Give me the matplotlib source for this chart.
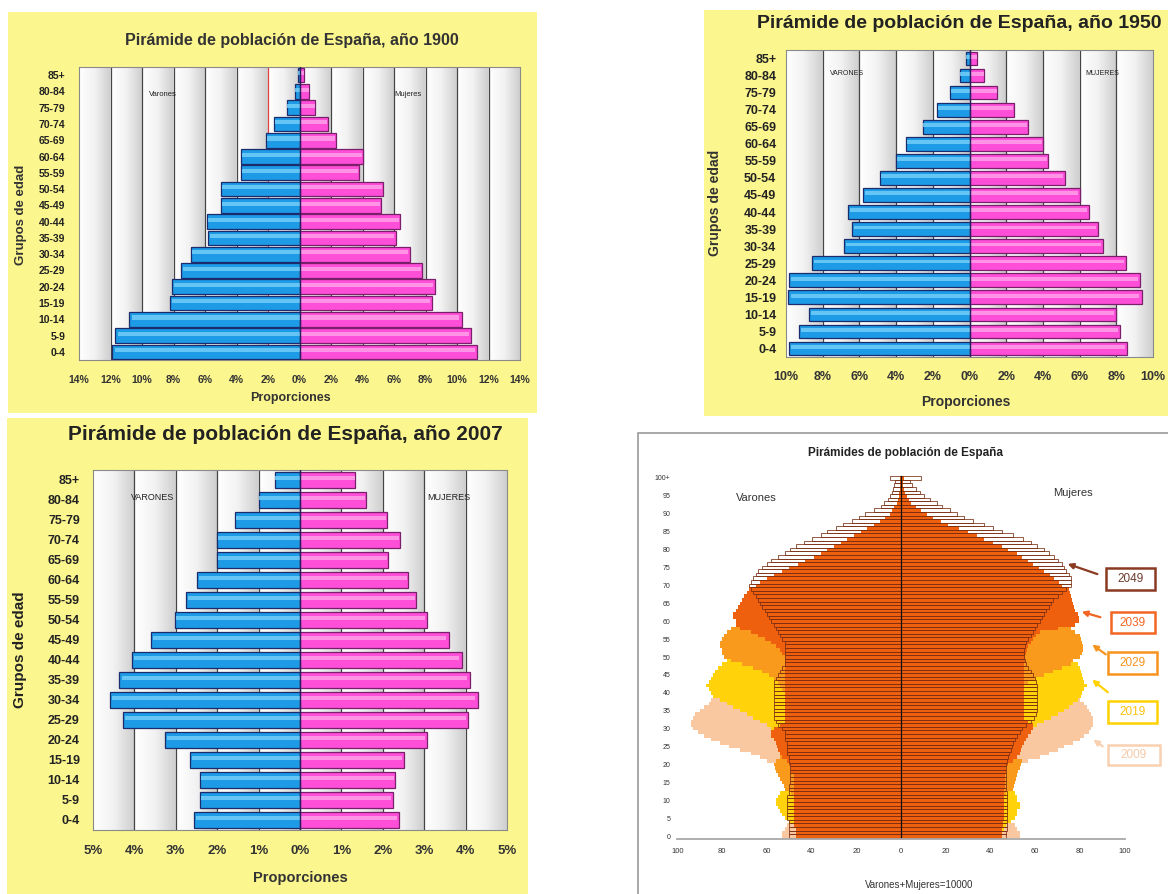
import numpy as np
import matplotlib
matplotlib.use("Agg")
import matplotlib.pyplot as plt
from matplotlib.patches import Rectangle, FancyArrowPatch
from matplotlib.colors import LinearSegmentedColormap

plt.rcParams['font.family'] = ['Liberation Sans', 'DejaVu Sans']

W, H = 1168, 894

# ---------------- data: quinquennial pyramids (% of total population) ----------------
groups = ["0-4", "5-9", "10-14", "15-19", "20-24", "25-29", "30-34", "35-39", "40-44",
          "45-49", "50-54", "55-59", "60-64", "65-69", "70-74", "75-79", "80-84", "85+"]

men_1900 = [11.9, 11.7, 10.8, 8.2, 8.1, 7.5, 6.9, 5.8, 5.9, 5.0, 5.0, 3.7, 3.7, 2.1, 1.6, 0.8, 0.3, 0.1]
women_1900 = [11.3, 10.9, 10.3, 8.4, 8.6, 7.8, 7.0, 6.1, 6.4, 5.2, 5.3, 3.8, 4.0, 2.3, 1.8, 1.0, 0.6, 0.3]

men_1950 = [9.85, 9.3, 8.75, 9.9, 9.85, 8.6, 6.85, 6.4, 6.6, 5.8, 4.9, 4.0, 3.45, 2.55, 1.75, 1.05, 0.5, 0.2]
women_1950 = [8.6, 8.2, 8.0, 9.4, 9.3, 8.55, 7.25, 7.0, 6.5, 6.0, 5.2, 4.3, 4.0, 3.2, 2.4, 1.5, 0.8, 0.4]

men_2007 = [2.56, 2.42, 2.42, 2.66, 3.25, 4.28, 4.6, 4.36, 4.06, 3.6, 3.03, 2.75, 2.48, 2.0, 2.0, 1.56, 1.0, 0.61]
women_2007 = [2.38, 2.24, 2.3, 2.5, 3.07, 4.06, 4.29, 4.1, 3.91, 3.59, 3.07, 2.81, 2.62, 2.13, 2.42, 2.11, 1.6, 1.34]

# ---------------- data: projected pyramids by single age (per 10000 inhabitants) ----------------
ages = list(range(0, 101))
age_labels = [str(a) for a in range(0, 100, 5)] + ["100+"]
proj_years = ["2009", "2019", "2029", "2039", "2049"]

men_2009 = [53, 53, 52, 51, 50, 49, 48, 47, 46, 46,
            45, 45, 45, 45, 46, 47, 48, 50, 52, 55,
            57, 60, 63, 67, 72, 77, 81, 85, 88, 91,
            93, 94, 94, 93, 92, 90, 88, 86, 85, 84,
            83, 82, 81, 80, 79, 78, 76, 74, 72, 70,
            68, 66, 64, 62, 61, 59, 58, 57, 56, 55,
            54, 52, 50, 48, 45, 43, 41, 40, 39, 38,
            37, 36, 35, 34, 33, 31, 29, 27, 25, 23,
            21, 19, 17, 15, 13, 11, 9, 8, 6, 5,
            4, 3, 2.5, 2, 1.5, 1, 0.8, 0.6, 0.4, 0.3,
            0.4]
men_2019 = [45, 46, 47, 48, 50, 52, 53, 54, 55, 56,
            56, 55, 54, 51, 50, 49, 48, 48, 48, 49,
            50, 50, 51, 52, 53, 54, 55, 56, 57, 58,
            58, 60, 63, 66, 69, 72, 75, 78, 81, 84,
            85, 86, 87, 86, 85, 84, 83, 82, 80, 78,
            76, 74, 72, 70, 68, 66, 64, 62, 60, 59,
            58, 57, 56, 54, 53, 51, 49, 47, 46, 44,
            42, 40, 38, 37, 36, 35, 33, 31, 29, 26,
            24, 22, 20, 18, 16, 14, 12, 10, 8, 6.5,
            4, 3, 2.2, 1.6, 1.2, 0.9, 0.6, 0.4, 0.3, 0.2,
            0.3]
men_2029 = [44, 44, 45, 45, 46, 46, 46, 47, 47, 47,
            48, 48, 49, 52, 52.5, 53, 54, 55, 56, 56.5,
            57, 56, 54, 53, 53, 53, 53, 53, 53, 53,
            52, 51, 51, 51, 51, 51, 51, 51, 51, 51,
            52, 53, 54, 55, 57, 59, 62, 66, 71, 76,
            79, 80, 80, 81, 81, 80, 79, 78, 76, 72,
            71, 70, 69, 68, 66, 64, 62, 59, 57, 55,
            53, 51, 49, 47, 45, 42, 40, 37, 34, 31,
            28, 25, 22, 20, 17, 15, 12, 10, 8, 6,
            4, 3, 2, 1.5, 1, 0.7, 0.5, 0.3, 0.2, 0.15,
            0.3]
men_2039 = [47, 47, 47, 48, 48, 48, 48, 48, 48, 48,
            48, 48, 48, 48, 48, 48, 48, 48, 49, 49,
            50, 51, 53, 54, 55, 55.5, 56, 57, 58, 58,
            57, 54, 52, 52, 52, 52, 52, 52, 52, 52,
            52, 52, 52, 52, 52, 52, 52, 52, 52, 52,
            52, 53, 54, 56, 58, 61, 64, 67, 72, 74,
            74, 75, 75, 74, 73, 72, 71, 70, 69, 68,
            65, 63, 60, 57, 53, 50, 46, 43, 39, 36,
            33, 30, 27, 24, 21, 18, 15, 12, 9.5, 7,
            5, 4, 3, 2, 1.5, 1, 0.8, 0.6, 0.4, 0.3,
            0.5]
men_2049 = [50, 50, 50, 50, 50, 51, 51, 51, 51, 51,
            51, 51, 50, 50, 50, 49.5, 49.5, 49.5, 49.5, 49.5,
            49.5, 50, 50, 51, 51, 51, 51, 52, 52, 52,
            53, 55, 56, 57, 57, 57, 57, 57, 57, 57,
            57, 57, 57, 57, 56, 55, 54, 53, 52, 52,
            52, 52, 52, 52, 52, 53, 54, 55, 56, 57,
            58, 59, 60, 61, 62, 63, 64, 65, 66, 67,
            68, 67, 66, 65, 64, 62, 60, 58, 55, 52,
            49.5, 47, 43.5, 40, 36, 33, 29, 26, 22, 19,
            16, 12, 9, 7.7, 6, 4.8, 4.2, 3.6, 3, 2.5,
            4.7]

women_2009 = [53, 53, 52, 51, 47, 46, 45, 44, 43, 43,
              43, 43, 43, 43, 44, 45, 46, 47, 49, 51,
              53, 57, 62, 66, 70, 73, 77, 80, 82, 84,
              85, 86, 86, 86, 85, 84, 83, 82, 80, 78,
              77, 76, 75, 74, 73, 72, 71, 70, 69, 68,
              67, 66, 65, 63, 62, 61, 60, 59, 58, 57,
              56, 55, 53, 51, 49, 47, 45, 44, 44, 44,
              44, 43, 42, 41, 40, 39, 38, 37, 35, 33,
              31, 29, 27, 25, 22, 20, 18, 15, 13, 11,
              8, 6, 4.5, 3.5, 2.5, 2, 1.5, 1, 0.7, 0.5,
              1.0]
women_2019 = [44, 45, 46, 47, 49, 51, 52, 52, 53, 53,
              52, 52, 51, 50, 49, 48, 47, 47, 47, 48,
              48, 49, 49, 50, 51, 52, 53, 54, 55, 56,
              58, 61, 64, 67, 70, 73, 75, 77, 79, 80.5,
              81, 82, 83, 82, 81.5, 81, 80.5, 80, 79, 77,
              75, 73, 71, 69, 67, 65, 63, 62, 61, 60,
              59, 58, 57, 56, 55, 54, 52, 50, 48, 47,
              46, 45, 44, 43, 42, 41, 40, 38, 36, 34,
              32, 30, 28, 26, 24, 21, 19, 16, 14, 11,
              8, 6, 4, 3, 2.2, 1.6, 1.2, 0.9, 0.6, 0.4,
              0.8]
women_2029 = [43, 43, 44, 44, 44, 44, 45, 45, 45, 45,
              46, 46, 47, 50, 50.5, 51, 51.5, 52, 52.5, 53,
              53.5, 54, 51, 51, 51, 51, 51, 51, 51, 51,
              51, 51, 51, 51, 51, 51, 51, 51, 52, 52,
              53, 54, 55, 57, 60, 64, 68, 72, 76, 77,
              80, 81, 81.5, 81.5, 81, 80.5, 80, 78, 76, 74,
              73, 72, 71, 70, 69, 68, 67, 66, 64, 62,
              60, 58, 56, 54, 51, 49, 46, 43, 40, 37,
              34, 31, 28, 25, 22, 19, 16, 13, 10, 8,
              6, 4.5, 3.3, 2.4, 1.7, 1.2, 0.9, 0.6, 0.4, 0.3,
              1.0]
women_2039 = [45, 45, 45, 45.5, 45.5, 46, 46, 46, 46, 46,
              46, 46, 46, 46, 46.5, 46.5, 46.5, 46.5, 47, 47,
              48, 50, 52, 53, 53.5, 54, 55, 56, 57, 58,
              59, 59, 57, 55, 55, 55, 55, 55, 55, 55,
              55, 55, 55, 55, 55, 55, 55, 55, 55, 55.5,
              55.6, 56, 56.5, 57, 58, 59, 60.5, 62, 70, 78,
              79.4, 79.4, 79, 78, 77.5, 77, 76.5, 76, 75.5, 75,
              72, 70.5, 68.5, 66.8, 64, 61.5, 59, 57, 54, 52,
              48, 45, 41, 37, 34, 30, 26, 21, 18, 14.5,
              11.6, 9, 6.5, 4.5, 3.5, 2.5, 2, 1.5, 1, 0.7,
              1.5]
women_2049 = [47, 47, 47.5, 47.5, 47.5, 47.5, 47.5, 47.5, 47.5, 47.5,
              47.5, 47.5, 47.5, 47, 47, 47, 47, 47, 47, 47,
              47, 47.5, 48, 48.5, 49, 49.5, 50, 51, 52, 53,
              54, 56, 58, 59.5, 60.5, 61, 61, 61, 61, 61,
              61, 61, 61, 60.5, 60, 59, 58, 57, 56, 55.5,
              55, 55, 55, 55.5, 56, 57, 58, 59, 60, 61,
              62, 63, 64, 65, 66, 67, 68, 70, 72, 74,
              76, 76, 76, 75, 74, 73, 72, 70, 68.5, 66,
              64, 61, 58, 54.5, 50, 45, 41, 37, 32, 28,
              25, 22, 18.5, 16, 13, 10.5, 8.5, 6.5, 5, 4,
              8.9]

proj_men = [men_2009, men_2019, men_2029, men_2039, men_2049]
proj_women = [women_2009, women_2019, women_2029, women_2039, women_2049]

# ---------------- styling ----------------
YELLOW = '#FBF68E'
BLUE, BLUE_HI, BLUE_ED = '#1E9BE6', '#78D2FA', '#1B2B6B'
PINK, PINK_HI, PINK_ED = '#FF4FD8', '#FFA6EC', '#7A1F6A'
proj_fill = ['#FAC8A0', '#FFD20A', '#F99A1C', '#EE600E', 'none']
proj_edge = ['#F9D0B0', '#FFD200', '#F7941D', '#F26522', '#8B3A22']
proj_text = ['#F6C9A8', '#FFC20E', '#F7941D', '#F26522', '#6B3B2B']

fig = plt.figure(figsize=(W / 100, H / 100), dpi=100)
fig.patch.set_facecolor('white')


def frac_rect(x0, y0, x1, y1):
    return [x0 / W, 1 - y1 / H, (x1 - x0) / W, (y1 - y0) / H]


def bg_rect(x0, y0, x1, y1, fc, ec='none', lw=0):
    r = Rectangle((x0 / W, 1 - y1 / H), (x1 - x0) / W, (y1 - y0) / H,
                  transform=fig.transFigure, facecolor=fc, edgecolor=ec, linewidth=lw, zorder=-5)
    fig.add_artist(r)


def ftext(x, y, s, **kw):
    fig.text(x / W, 1 - y / H, s, **kw)


bgcmap = LinearSegmentedColormap.from_list('bg', ['#FFFFFF', '#F2F2F2', '#CFCFCF'])


def pyramid(rect_px, men, women, xmax, grid_step, tick_step, ysize, xsize, ypad, xpad,
            bar_h, label_pos, label_txt, label_size, red_line=None):
    ax = fig.add_axes(frac_rect(*rect_px))
    y = np.arange(len(groups))
    ncol = int(round(2 * xmax / grid_step))
    ramp = np.tile(np.linspace(0, 1, 40), ncol)[None, :]
    ax.imshow(ramp, extent=(-xmax, xmax, -0.5, len(groups) - 0.5), aspect='auto',
              cmap=bgcmap, zorder=0, interpolation='bilinear')
    for g in np.arange(-xmax + grid_step, xmax, grid_step):
        col = '#444444'
        if red_line is not None and abs(g - red_line) < 1e-9:
            col = '#E04040'
        ax.axvline(g, color=col, lw=0.9, zorder=1)
    m = -np.array(men)
    w = np.array(women)
    ax.barh(y, m, height=bar_h, color=BLUE, edgecolor=BLUE_ED, linewidth=0.9, zorder=3)
    ax.barh(y, w, height=bar_h, color=PINK, edgecolor=PINK_ED, linewidth=0.9, zorder=3)
    ax.barh(y + bar_h * 0.12, m * 0.985, height=bar_h * 0.28, color=BLUE_HI, linewidth=0, zorder=4, alpha=0.8)
    ax.barh(y + bar_h * 0.12, w * 0.985, height=bar_h * 0.28, color=PINK_HI, linewidth=0, zorder=4, alpha=0.8)
    ax.axvline(0, color='#2A1E5C', lw=1.0, zorder=5)
    ax.set_xlim(-xmax, xmax)
    ax.set_ylim(-0.5, len(groups) - 0.5)
    ticks = np.arange(-xmax, xmax + 0.001, tick_step)
    ax.set_xticks(ticks)
    ax.set_xticklabels([f"{abs(int(round(t)))}%" for t in ticks], fontsize=xsize,
                       fontweight='bold', color='#333333')
    ax.set_yticks(y)
    ax.set_yticklabels(groups, fontsize=ysize, fontweight='bold', color='#222222')
    ax.tick_params(axis='both', length=0)
    ax.tick_params(axis='x', pad=xpad)
    ax.tick_params(axis='y', pad=ypad)
    for s in ax.spines.values():
        s.set_color('#8A8A8A')
        s.set_linewidth(0.8)
    ax.text(-label_pos[0], label_pos[1], label_txt[0], fontsize=label_size, ha='center',
            va='center', color='#222222', zorder=6)
    ax.text(label_pos[2], label_pos[1], label_txt[1], fontsize=label_size, ha='center',
            va='center', color='#222222', zorder=6)
    return ax


# ---------------- panel 1: 1900 ----------------
bg_rect(8, 12, 537, 413, YELLOW)
pyramid((79, 67, 520, 360), men_1900, women_1900, 14, 2, 2, 7.5, 7.5, 10, 10.5, 0.9,
        (8.7, 15.8, 6.9), ("Varones", "Mujeres"), 5.5, red_line=-2)
ftext(292, 41, "Pirámide de población de España, año 1900", fontsize=11.5, fontweight='bold',
      ha='center', va='center', color='#333333')
ftext(290, 398, "Proporciones", fontsize=9, fontweight='bold', ha='center', va='center', color='#333333')
ftext(21, 215, "Grupos de edad", fontsize=9.5, fontweight='bold', ha='center', va='center',
      rotation=90, color='#333333')

# ---------------- panel 2: 1950 ----------------
bg_rect(704, 10, 1168, 416, YELLOW)
pyramid((786, 50, 1153, 357), men_1950, women_1950, 10, 2, 2, 9, 9, 7, 10, 0.8,
        (6.7, 16.1, 7.25), ("VARONES", "MUJERES"), 5, red_line=None)
ftext(959, 23, "Pirámide de población de España, año 1950", fontsize=14, fontweight='bold',
      ha='center', va='center', color='#222222')
ftext(966, 402, "Proporciones", fontsize=10, fontweight='bold', ha='center', va='center', color='#333333')
ftext(715, 203, "Grupos de edad", fontsize=10, fontweight='bold', ha='center', va='center',
      rotation=90, color='#333333')

# ---------------- panel 3: 2007 ----------------
bg_rect(7, 418, 528, 894, YELLOW)
pyramid((93, 470, 507, 830), men_2007, women_2007, 5, 1, 1, 9, 9.5, 9.5, 10.5, 0.82,
        (3.57, 16.1, 3.6), ("VARONES", "MUJERES"), 6.5, red_line=None)
ftext(285, 435, "Pirámide de población de España, año 2007", fontsize=15, fontweight='bold',
      ha='center', va='center', color='#222222')
ftext(300, 878, "Proporciones", fontsize=10.5, fontweight='bold', ha='center', va='center', color='#333333')
ftext(20, 650, "Grupos de edad", fontsize=11, fontweight='bold', ha='center', va='center',
      rotation=90, color='#222222')

# ---------------- panel 4: projections ----------------
bg_rect(638, 433, 1180, 900, 'white', ec='#9A9A9A', lw=1.2)
ax4 = fig.add_axes(frac_rect(677.4, 474.4, 1124.6, 839.6))
ax4.set_facecolor('none')
for i in range(4):
    ax4.barh(ages, -np.array(proj_men[i]), height=1.0, color=proj_fill[i], linewidth=0, zorder=2 + i)
    ax4.barh(ages, np.array(proj_women[i]), height=1.0, color=proj_fill[i], linewidth=0, zorder=2 + i)
ax4.barh(ages, -np.array(proj_men[4]), height=1.0, facecolor='none', edgecolor='#7B2D10',
         linewidth=0.55, zorder=7)
ax4.barh(ages, np.array(proj_women[4]), height=1.0, facecolor='none', edgecolor='#7B2D10',
         linewidth=0.55, zorder=7)
ax4.plot([0, 0], [-0.5, 100.5], color='#111111', lw=0.9, zorder=8)
ax4.plot([-100, 100], [-0.7, -0.7], color='#A8A8A8', lw=1.3, zorder=8, clip_on=False)
ax4.set_xlim(-100, 100)
ax4.set_ylim(-1, 101)
xt = list(range(-100, 101, 20))
ax4.set_xticks(xt)
ax4.set_xticklabels([str(abs(v)) for v in xt], fontsize=5.5, color='#333333')
ax4.set_yticks(list(range(0, 101, 5)))
ax4.set_yticklabels(age_labels, fontsize=5, color='#333333')
ax4.tick_params(axis='both', length=0)
ax4.tick_params(axis='x', pad=6)
ax4.tick_params(axis='y', pad=5)
for s in ax4.spines.values():
    s.set_visible(False)
ftext(905, 453, "Pirámides de población de España", fontsize=8.5, fontweight='bold',
      ha='center', va='center', color='#222222')
ftext(756, 498, "Varones", fontsize=8, ha='center', va='center', color='#333333')
ftext(1073, 493, "Mujeres", fontsize=8, ha='center', va='center', color='#333333')
ftext(919, 885, "Varones+Mujeres=10000", fontsize=7, ha='center', va='center', color='#333333')

boxes = {
    "2049": (1106, 568, 1155, 590, (1100, 575), (1065, 563)),
    "2039": (1111, 612, 1155, 633, (1103, 618), (1079, 611)),
    "2029": (1108, 652, 1157, 674, (1108, 656), (1090, 643)),
    "2019": (1108, 701, 1157, 723, (1110, 694), (1090, 678)),
    "2009": (1108, 745, 1160, 765, (1105, 748), (1091, 738)),
}
for i, yr in enumerate(proj_years):
    x0, y0, x1, y1, tail, head = boxes[yr]
    r = Rectangle((x0 / W, 1 - y1 / H), (x1 - x0) / W, (y1 - y0) / H, transform=fig.transFigure,
                  facecolor='white', edgecolor=proj_edge[i], linewidth=1.8, zorder=10)
    fig.add_artist(r)
    ftext((x0 + x1) / 2, (y0 + y1) / 2, yr, fontsize=8.5, ha='center', va='center',
          color=proj_text[i], zorder=11)
    arr = FancyArrowPatch((tail[0] / W, 1 - tail[1] / H), (head[0] / W, 1 - head[1] / H),
                          transform=fig.transFigure, arrowstyle='-|>', mutation_scale=8,
                          color=proj_edge[i], lw=1.6, zorder=11)
    fig.add_artist(arr)

fig.savefig('out.png', dpi=100, facecolor='white')
